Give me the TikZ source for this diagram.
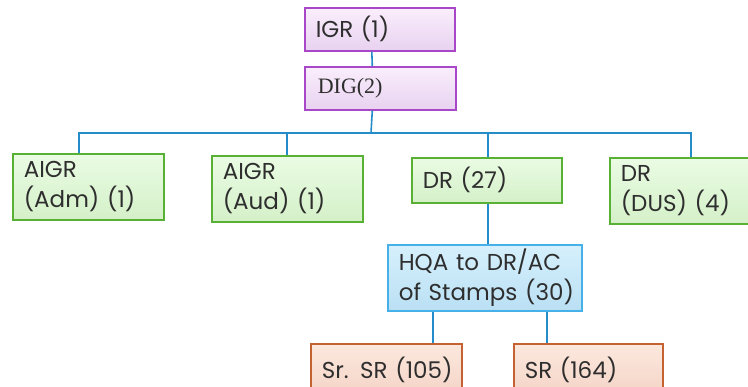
\documentclass[tikz,border=0pt]{standalone}
\usepackage{fontspec}
\setmainfont{Poppins}
\newfontfamily\digfont{Liberation Serif}
\hbadness=10000 \hfuzz=100pt
\begin{document}
\begin{tikzpicture}[x=1pt,y=-1pt,
  base/.style={anchor=north west, rectangle, line width=1.6pt, align=left,
    inner xsep=11pt, inner ysep=0pt, font=\fontsize{23}{30}\selectfont,
    text=black!82},
  violetbox/.style={base, draw={rgb,255:red,168;green,72;blue,200},
    top color={rgb,255:red,250;green,238;blue,252}, bottom color={rgb,255:red,232;green,210;blue,240}},
  greenbox/.style={base, draw={rgb,255:red,88;green,176;blue,52},
    top color={rgb,255:red,234;green,252;blue,228}, bottom color={rgb,255:red,212;green,240;blue,200}},
  bluebox/.style={base, draw={rgb,255:red,70;green,176;blue,232},
    top color={rgb,255:red,214;green,240;blue,252}, bottom color={rgb,255:red,186;green,224;blue,244}},
  orangebox/.style={base, draw={rgb,255:red,196;green,98;blue,50},
    top color={rgb,255:red,252;green,232;blue,222}, bottom color={rgb,255:red,244;green,212;blue,198}},
  link/.style={draw={rgb,255:red,36;green,140;blue,200}, line width=1.6pt}]
\useasboundingbox[fill=white] (0,0) rectangle (748,387);

% top of the chart
\node[violetbox, minimum width=150pt, minimum height=43pt, text width=128pt] (igr) at (304,7) {\mbox{IGR (1)}};
\node[violetbox, minimum width=150pt, minimum height=43pt, text width=125pt, inner xsep=13pt,
      font=\digfont\fontsize{22}{24}\selectfont] (dig) at (304,66) {\mbox{DIG(2)}};

% second row
\node[greenbox, minimum width=151pt, minimum height=66pt, text width=129pt] (adm) at (12,153) {\mbox{AIGR}\\\mbox{(Adm) (1)}};
\node[greenbox, minimum width=151pt, minimum height=66pt, text width=129pt] (aud) at (211,155) {\mbox{AIGR}\\\mbox{(Aud) (1)}};
\node[greenbox, minimum width=150pt, minimum height=45pt, text width=128pt] (dr) at (411,157) {\mbox{DR (27)}};
\node[greenbox, minimum width=150pt, minimum height=66pt, text width=128pt] (dus) at (609,157) {\mbox{DR}\\\mbox{(DUS) (4)}};

% third row
\node[bluebox, minimum width=194pt, minimum height=66pt, text width=172pt] (hqa) at (387,244) {\mbox{HQA to DR/AC}\\\mbox{of Stamps (30)}};

% bottom row
\node[orangebox, minimum width=151pt, minimum height=52pt, text width=129pt] (srsr) at (310,343) {\mbox{Sr. SR (105)}};
\node[orangebox, minimum width=149pt, minimum height=52pt, text width=127pt] (sr) at (513,343) {\mbox{SR (164)}};

% connectors
\coordinate (bus) at (371,133);
\draw[link] ([xshift=-8pt]igr.south) -- ([xshift=-8pt]dig.north);
\draw[link] ([xshift=-8pt]dig.south) -- (bus);
\draw[link] (adm.north -| 79,0) -- (79,133) -- (691,133) -- (dus.north -| 691,0);
\draw[link] (aud.north -| 287,0) -- (287,133);
\draw[link] (dr.north -| 488,0) -- (488,133);
\draw[link] (dr.south -| 488,0) -- (hqa.north -| 488,0);
\draw[link] (hqa.south -| 433,0) -- (srsr.north -| 433,0);
\draw[link] (hqa.south -| 547,0) -- (sr.north -| 547,0);
\end{tikzpicture}
\end{document}
